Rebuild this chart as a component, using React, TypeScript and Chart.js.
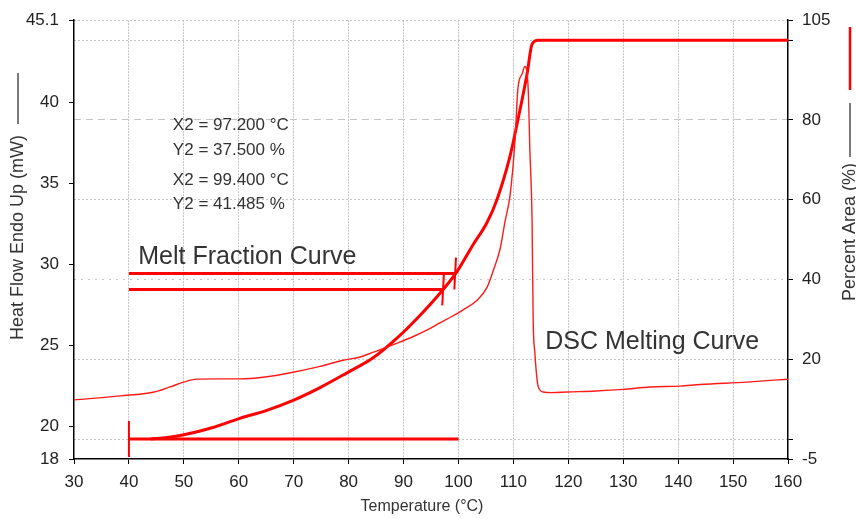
import React, { useEffect, useRef } from "react";
import { Chart, registerables } from "chart.js";

Chart.register(...registerables);

// ---------- data ----------
const temperatureTicks = [30, 40, 50, 60, 70, 80, 90, 100, 110, 120, 130, 140, 150, 160];
const heatFlowTicks = [18, 20, 25, 30, 35, 40, 45.1];
const percentTicks = [-5, 0, 20, 40, 60, 80, 100, 105];
const percentUnlabelled = [0, 100];

// DSC melting curve (Heat Flow Endo Up, mW)
const dscTemp = [
  30, 38.4, 44.4, 47.5, 49.8, 52.4, 56, 60.2, 64.4, 69.9, 74.8, 79, 82.1, 84.4, 88,
  91.7, 94.5, 96.6, 98.8, 100.8, 103.4, 105.2, 106.3, 107.6, 108.5, 109.4, 110.3,
  110.8, 111.6, 112.1, 112.7, 113.0, 113.4, 113.6, 113.9, 114.5, 115.4, 117, 119.8,
  125, 130, 134.9, 140.3, 144, 152.5, 160,
];
const dscHeatFlow = [
  21.65, 21.9, 22.12, 22.45, 22.73, 22.93, 22.95, 22.95, 23.05, 23.36, 23.72, 24.1, 24.3,
  24.58, 25.05, 25.55, 26.0, 26.4, 26.8, 27.2, 27.8, 28.6, 29.6, 31.0, 32.7, 34.3, 37.7,
  40.8, 41.8, 42.24, 40.8, 37.1, 32.7, 26.6, 24.6, 22.5, 22.14, 22.1, 22.14, 22.2, 22.3,
  22.45, 22.5, 22.6, 22.75, 22.93,
];

// Melt fraction curve (Percent Area, %)
const meltTemp = [
  44, 47, 49.8, 55.3, 60.2, 65.1, 69.9, 74.8, 79.7, 84.4, 88.8, 92.5, 96.6, 99.7, 102.6,
  105.2, 107, 109.4, 110.7, 112.5, 113.4, 114.5, 120, 160,
];
const meltPercent = [
  0, 0.4, 1.0, 2.9, 5.2, 7.2, 9.7, 12.9, 16.6, 20.3, 25.3, 30.3, 36.5, 41.9, 48.6, 54.3,
  60.0, 71.0, 79.2, 91.6, 99.0, 100, 100, 100,
];

// cursors
const cursorX = [97.2, 99.4];
const cursorY = [37.5, 41.485];
const cursorStart = 40;
const baselineEnd = 100;
const baselineLevel = 0;
const cursorTickHalf = 4;

// ---------- styles ----------
const FONT = '"Liberation Sans", Arial, Helvetica, sans-serif';
const RED = "#ff0000";
const GRID = "#c4c4c4";
const TEXT = "#333333";

const xy = (xs: number[], ys: number[]) => xs.map((x, i) => ({ x, y: ys[i] }));

const lineDs = (
  data: { x: number; y: number }[],
  width: number,
  axis: string,
  color = RED,
  smooth = false
) => ({
  data,
  yAxisID: axis,
  borderColor: color,
  backgroundColor: color,
  borderWidth: width,
  pointRadius: 0,
  fill: false,
  tension: smooth ? 0.4 : 0,
  cubicInterpolationMode: smooth ? "monotone" : "default",
});

const textPlugin = {
  id: "textPlugin",
  afterDatasetsDraw(chart: any) {
    const { ctx, scales } = chart;
    const x = scales.x;
    const yR = scales.yR;
    ctx.save();
    ctx.fillStyle = TEXT;
    ctx.textAlign = "left";
    ctx.textBaseline = "alphabetic";
    ctx.font = `25px ${FONT}`;
    ctx.fillText("Melt Fraction Curve", x.getPixelForValue(41.7), yR.getPixelForValue(43.9));
    ctx.fillText("DSC Melting Curve", x.getPixelForValue(115.8), yR.getPixelForValue(22.6));

    ctx.font = `17px ${FONT}`;
    ctx.textBaseline = "middle";
    const lx = x.getPixelForValue(48);
    const rows = [78.75, 72.5, 64.8, 58.9];
    const texts = [
      `X2 = ${cursorX[0].toFixed(3)} °C`,
      `Y2 = ${cursorY[0].toFixed(3)} %`,
      `X2 = ${cursorX[1].toFixed(3)} °C`,
      `Y2 = ${cursorY[1].toFixed(3)} %`,
    ];
    texts.forEach((t, i) => ctx.fillText(t, lx, yR.getPixelForValue(rows[i])));
    ctx.restore();
  },
  afterDraw(chart: any) {
    const { ctx } = chart;
    ctx.save();
    ctx.fillStyle = TEXT;
    // x title
    ctx.font = `16px ${FONT}`;
    ctx.textAlign = "center";
    ctx.textBaseline = "middle";
    ctx.fillText("Temperature (°C)", 422, 507);

    // left title
    ctx.font = `18px ${FONT}`;
    ctx.save();
    ctx.translate(18, 0);
    ctx.rotate(-Math.PI / 2);
    ctx.textAlign = "right";
    ctx.fillText("Heat Flow Endo Up (mW)", -135, 0);
    ctx.restore();
    ctx.strokeStyle = "#222";
    ctx.lineWidth = 1.2;
    ctx.beginPath();
    ctx.moveTo(18, 73);
    ctx.lineTo(18, 124);
    ctx.stroke();

    // right title
    ctx.save();
    ctx.translate(850, 0);
    ctx.rotate(-Math.PI / 2);
    ctx.textAlign = "right";
    ctx.fillText("Percent Area (%)", -163, 0);
    ctx.restore();
    ctx.beginPath();
    ctx.moveTo(850, 103);
    ctx.lineTo(850, 157);
    ctx.stroke();
    ctx.strokeStyle = RED;
    ctx.lineWidth = 2.5;
    ctx.beginPath();
    ctx.moveTo(850, 27);
    ctx.lineTo(850, 90);
    ctx.stroke();
    ctx.restore();
  },
};

export default function App() {
  const ref = useRef<HTMLCanvasElement | null>(null);

  useEffect(() => {
    if (!ref.current) return;

    const datasets: any[] = [
      lineDs(xy(dscTemp, dscHeatFlow), 1.4, "yL", "#ff1a1a", true),
      lineDs(xy(meltTemp, meltPercent), 3, "yR", RED, true),
      // baseline
      lineDs([{ x: cursorStart, y: baselineLevel }, { x: baselineEnd, y: baselineLevel }], 3, "yR"),
      lineDs(
        [
          { x: cursorStart, y: baselineLevel - cursorTickHalf - 0.5 },
          { x: cursorStart, y: baselineLevel + cursorTickHalf + 0.5 },
        ],
        2,
        "yR"
      ),
    ];
    cursorX.forEach((cx, i) => {
      const cy = cursorY[i];
      datasets.push(lineDs([{ x: cursorStart, y: cy }, { x: cx, y: cy }], 3, "yR"));
      datasets.push(
        lineDs(
          [
            { x: cx - 0.15, y: cy - cursorTickHalf },
            { x: cx + 0.15, y: cy + cursorTickHalf },
          ],
          2,
          "yR"
        )
      );
    });

    const tickFont = { family: FONT, size: 17 };

    const chart = new Chart(ref.current, {
      type: "line",
      data: { datasets },
      plugins: [textPlugin],
      options: {
        responsive: false,
        animation: false,
        devicePixelRatio: 1,
        layout: { padding: { top: 16, left: 0, right: 0, bottom: 0 } },
        plugins: { legend: { display: false }, tooltip: { enabled: false } },
        scales: {
          x: {
            type: "linear",
            min: 30,
            max: 160,
            afterBuildTicks: (s: any) => {
              s.ticks = temperatureTicks.map((v) => ({ value: v }));
            },
            afterFit: (s: any) => {
              s.height = 60;
            },
            ticks: { font: tickFont, color: "#222", padding: 8, maxRotation: 0, autoSkip: false },
            grid: {
              color: (c: any) =>
                c.tick && (c.tick.value === 30 || c.tick.value === 160) ? "rgba(0,0,0,0)" : GRID,
              tickColor: "#000",
              tickLength: 5,
              lineWidth: 1,
            },
            border: { color: "#000", width: 1.5, dash: (c: any) => (c.tick ? [2, 1] : []) },
          },
          yL: {
            type: "linear",
            position: "left",
            min: 18,
            max: 45.1,
            afterBuildTicks: (s: any) => {
              s.ticks = heatFlowTicks.map((v) => ({ value: v }));
            },
            afterFit: (s: any) => {
              s.width = 74;
            },
            ticks: { font: tickFont, color: "#222", padding: 10, autoSkip: false, callback: (v: any) => String(v) },
            grid: { drawOnChartArea: false, tickColor: "#000", tickLength: 5 },
            border: { color: "#000", width: 1.5 },
          },
          yR: {
            type: "linear",
            position: "right",
            min: -5,
            max: 105,
            afterBuildTicks: (s: any) => {
              s.ticks = percentTicks.map((v) => ({ value: v }));
            },
            afterFit: (s: any) => {
              s.width = 68;
            },
            ticks: {
              font: tickFont,
              color: "#222",
              padding: 9,
              autoSkip: false,
              callback: (v: any) => (percentUnlabelled.includes(Number(v)) ? "" : String(v)),
            },
            grid: {
              color: (c: any) => (c.tick && c.tick.value === -5 ? "rgba(0,0,0,0)" : GRID),
              tickColor: "#000",
              tickLength: 5,
              lineWidth: 1,
            },
            border: {
              color: "#000",
              width: 1.5,
              dash: (c: any) => {
                if (!c.tick) return [];
                const v = c.tick.value;
                if (v === 80) return [7, 5];
                if (v === 40) return [2, 5];
                return [2, 2];
              },
            },
          },
        },
      },
    } as any);

    return () => chart.destroy();
  }, []);

  return (
    <div style={{ position: "fixed", left: 0, top: 0, width: 856, height: 519, background: "#fff" }}>
      <canvas ref={ref} width={856} height={519} style={{ display: "block" }} />
    </div>
  );
}
